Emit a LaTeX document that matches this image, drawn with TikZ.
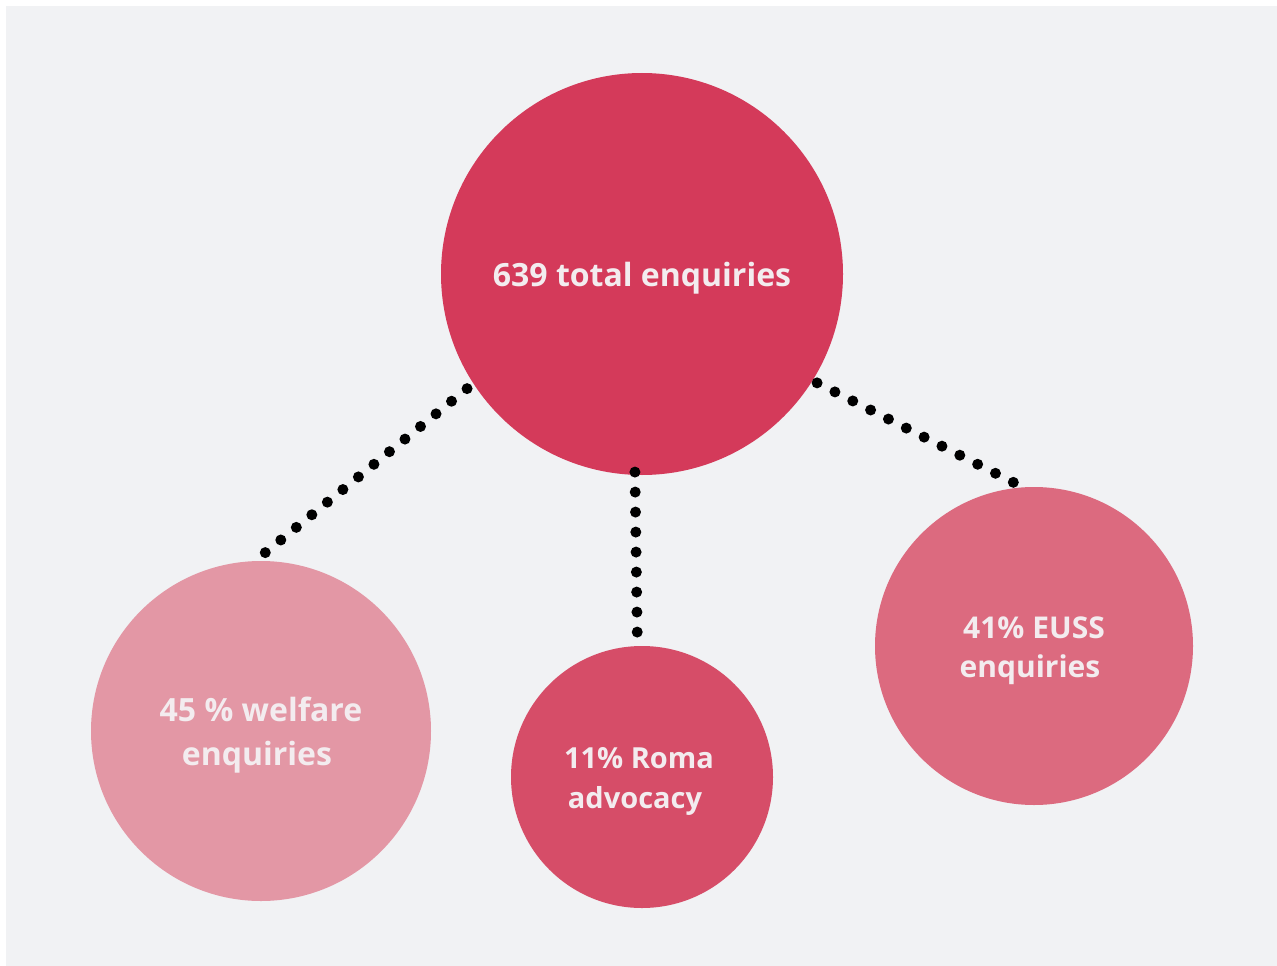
\documentclass[tikz,border=0pt]{standalone}
\usepackage{fontspec}
\setmainfont{Open Sans}
\usepackage{xcolor}
\definecolor{bg}{HTML}{F1F2F4}
\definecolor{topred}{HTML}{D43A5A}
\definecolor{welfare}{HTML}{E397A5}
\definecolor{roma}{HTML}{D64D68}
\definecolor{euss}{HTML}{DC6A7F}
\definecolor{txt}{HTML}{F3ECEF}

\begin{document}
\begin{tikzpicture}[x=1pt, y=-1pt,
    bubble/.style={circle, inner sep=0pt},
    caption/.style={align=center, text=txt, inner sep=0pt},
    dots/.style={line width=11pt, line cap=round, dash pattern=on 0pt off 20pt}]
    \useasboundingbox (0,0) rectangle (1277,966);
    \fill[white] (0,0) rectangle (1277,966);
    \fill[bg] (6,6) rectangle (1277,966);
    % circles
    \node[bubble, fill=topred, minimum size=402pt] (total) at (642,274) {};
    \node[bubble, fill=welfare, minimum size=340pt] (welfare) at (261,731) {};
    \node[bubble, fill=roma, minimum size=262pt] (roma) at (642,777) {};
    \node[bubble, fill=euss, minimum size=318pt] (euss) at (1034,646) {};
    % texts
    \node[caption, font=\bfseries\fontsize{32}{44}\selectfont] (totaltext) at ([yshift=-4pt]total) {639 total enquiries};
    \node[caption, font=\bfseries\fontsize{32}{44}\selectfont] (welfaretext) at ([yshift=-4pt]welfare) {45 \% welfare\\enquiries\hspace*{8pt}};
    \node[caption, font=\bfseries\fontsize{29}{40}\selectfont] (romatext) at ([xshift=-3pt, yshift=-4pt]roma) {11\% Roma\\advocacy\hspace*{8pt}};
    \node[caption, font=\bfseries\fontsize{30}{39}\selectfont] (eusstext) at ([yshift=-5pt]euss) {41\% EUSS\\enquiries\hspace*{8pt}};
    % dotted links
    \draw[dots, shorten <=8pt, shorten >=13pt] (total.213) -- (welfare.92);
    \draw[dots, shorten <=-3pt, shorten >=13pt] (total.268) -- (roma.92);
    \draw[dots, shorten <=5pt, shorten >=10pt] (total.328) -- (euss.94);
\end{tikzpicture}
\end{document}
